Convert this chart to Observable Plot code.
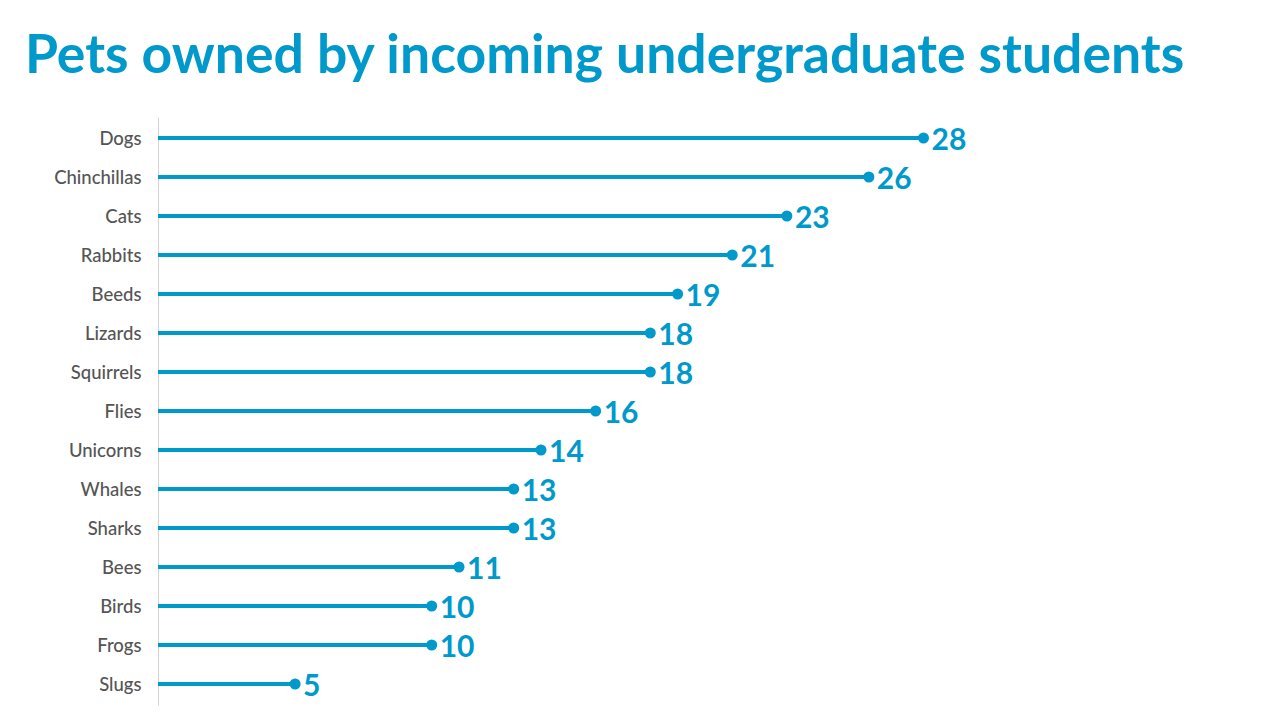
<!DOCTYPE html>
<html>
<head>
<meta charset="utf-8">
<script src="https://cdn.jsdelivr.net/npm/d3@7"></script>
<script src="https://cdn.jsdelivr.net/npm/@observablehq/plot@0.6"></script>
<style>
  html, body { margin: 0; padding: 0; background: #fff; width: 1280px; height: 720px; overflow: hidden; }
  #title { position: absolute; left: 25px; top: 26px; margin: 0; font-family: Lato, sans-serif; font-weight: 700; font-size: 53.5px; line-height: 1; color: #0099cc; white-space: nowrap; }
  #chart { position: absolute; left: 0; top: 100px; }
</style>
</head>
<body>
<h1 id="title">Pets owned by incoming undergraduate students</h1>
<div id="chart"></div>
<script>
const pets = ["Dogs", "Chinchillas", "Cats", "Rabbits", "Beeds", "Lizards", "Squirrels", "Flies", "Unicorns", "Whales", "Sharks", "Bees", "Birds", "Frogs", "Slugs"];
const counts = [28, 26, 23, 21, 19, 18, 18, 16, 14, 13, 13, 11, 10, 10, 5];

const data = pets.map((p, i) => ({pet: p, count: counts[i]}));
const blue = "#0099cc";

const chart = Plot.plot({
  width: 1280,
  height: 620,
  marginTop: 17.6,
  marginBottom: 14.4,
  marginLeft: 158,
  marginRight: 357,
  x: {domain: [0, 28], axis: null},
  y: {domain: pets, type: "band", padding: 0, label: null},
  style: {fontFamily: "Lato, sans-serif", background: "#fff"},
  marks: [
    Plot.axisY({tickSize: 0, tickPadding: 17, fontSize: 18.5, fill: "#555", label: null, fontWeight: 500}),
    Plot.ruleX([0], {stroke: "#d4d4d4", strokeWidth: 1}),
    Plot.ruleY(data, {y: "pet", x1: 0, x2: "count", stroke: blue, strokeWidth: 4, dy: -1}),
    Plot.dot(data, {y: "pet", x: "count", r: 5.5, fill: blue, dy: -1}),
    Plot.text(data, {y: "pet", x: "count", text: d => String(d.count), dx: 8, dy: 1, textAnchor: "start", fill: blue, fontSize: 30, fontWeight: 700})
  ]
});
document.getElementById("chart").appendChild(chart);
</script>
</body>
</html>
